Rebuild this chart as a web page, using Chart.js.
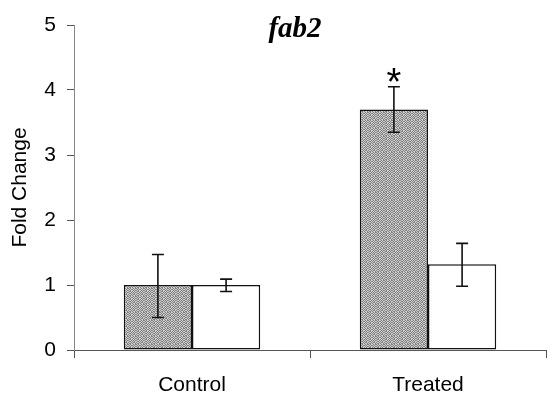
<!DOCTYPE html>
<html>
<head>
<meta charset="utf-8">
<script src="https://cdn.jsdelivr.net/npm/chart.js@4"></script>
<style>
  html, body { margin: 0; padding: 0; background: #fff; }
  #wrap { width: 551px; height: 406px; position: relative; }
</style>
</head>
<body>
<div id="wrap"><canvas id="c" width="551" height="406"></canvas></div>
<script>
const categories = ['Control', 'Treated'];
const grayValues = [1.0, 3.70];
const grayErrLow = [0.50, 3.35];
const grayErrHigh = [1.47, 4.05];
const whiteValues = [1.0, 1.32];
const whiteErrLow = [0.90, 0.98];
const whiteErrHigh = [1.09, 1.64];
const yTicks = [0, 1, 2, 3, 4, 5];
const significant = [[false, true], [false, false]];
const titleText = 'fab2';
const yTitle = 'Fold Change';

function makePattern() {
  const map = [
    '10100101',
    '01011010',
    '10100101',
    '01101010',
    '10010101',
    '01101010',
    '10010110',
    '01101001'
  ];
  const p = document.createElement('canvas');
  p.width = 8; p.height = 8;
  const g = p.getContext('2d');
  for (let y = 0; y < 8; y++) for (let x = 0; x < 8; x++) {
    g.fillStyle = map[y][x] === '1' ? '#7e7e7e' : '#d0d0d0';
    g.fillRect(x, y, 1, 1);
  }
  return document.getElementById('c').getContext('2d').createPattern(p, 'repeat');
}

const errorData = [[grayErrLow, grayErrHigh], [whiteErrLow, whiteErrHigh]];

const errorPlugin = {
  id: 'errorbars',
  afterDatasetsDraw(chart) {
    const ctx = chart.ctx;
    const ys = chart.scales.y;
    ctx.save();
    ctx.strokeStyle = '#111';
    ctx.lineWidth = 1.6;
    chart.data.datasets.forEach((ds, di) => {
      const meta = chart.getDatasetMeta(di);
      meta.data.forEach((bar, i) => {
        const x = bar.x;
        const yl = ys.getPixelForValue(errorData[di][0][i]);
        const yh = ys.getPixelForValue(errorData[di][1][i]);
        const cap = 6;
        ctx.beginPath();
        ctx.moveTo(x, yl); ctx.lineTo(x, yh);
        ctx.moveTo(x - cap, yl); ctx.lineTo(x + cap, yl);
        ctx.moveTo(x - cap, yh); ctx.lineTo(x + cap, yh);
        ctx.stroke();
        if (significant[di][i]) {
          ctx.save();
          ctx.fillStyle = '#000';
          ctx.font = '38px "Liberation Sans", Arial, sans-serif';
          ctx.textAlign = 'center';
          ctx.textBaseline = 'alphabetic';
          const m = ctx.measureText('*');
          const cy = yh - 12;
          ctx.fillText('*', x, cy + (m.actualBoundingBoxAscent - m.actualBoundingBoxDescent) / 2);
          ctx.restore();
        }
      });
    });
    ctx.restore();
  }
};

const titlePlugin = {
  id: 'toptitle',
  afterDraw(chart) {
    const ctx = chart.ctx;
    ctx.save();
    ctx.fillStyle = '#000';
    ctx.font = 'italic bold 29px "Liberation Serif", "Times New Roman", serif';
    ctx.textAlign = 'center';
    ctx.textBaseline = 'alphabetic';
    ctx.fillText(titleText, 295, 37);
    ctx.restore();
  }
};

const pattern = makePattern();

new Chart(document.getElementById('c'), {
  type: 'bar',
  data: {
    labels: categories,
    datasets: [
      { data: grayValues, backgroundColor: pattern, borderColor: '#111', borderWidth: 1.5, borderSkipped: false },
      { data: whiteValues, backgroundColor: '#ffffff', borderColor: '#111', borderWidth: 1.5, borderSkipped: false }
    ]
  },
  options: {
    responsive: false,
    animation: false,
    devicePixelRatio: 1,
    categoryPercentage: 0.578,
    barPercentage: 1.0,
    layout: { padding: { top: 25, right: 5, left: 0, bottom: 0 } },
    plugins: { legend: { display: false }, tooltip: { enabled: false }, title: { display: false } },
    scales: {
      x: {
        grid: { display: true, drawOnChartArea: false, drawTicks: true, tickLength: 8, color: '#555', offset: true },
        border: { display: true, color: '#555', width: 1 },
        ticks: { color: '#000', font: { family: '"Liberation Sans", Arial, sans-serif', size: 21 }, padding: 15 },
        afterFit(scale) { scale.height = 56; }
      },
      y: {
        min: 0, max: 5,
        afterBuildTicks(scale) { scale.ticks = yTicks.map(v => ({ value: v })); },
        grid: { display: true, drawOnChartArea: false, drawTicks: true, tickLength: 7, color: '#555' },
        border: { display: true, color: '#888', width: 1 },
        ticks: { color: '#000', font: { family: '"Liberation Sans", Arial, sans-serif', size: 21 }, padding: 11 },
        title: { display: true, text: yTitle, color: '#000', font: { family: '"Liberation Sans", Arial, sans-serif', size: 21 }, padding: { top: 8, bottom: 0 } },
        afterFit(scale) { scale.width = 74; }
      }
    }
  },
  plugins: [errorPlugin, titlePlugin]
});
</script>
</body>
</html>
